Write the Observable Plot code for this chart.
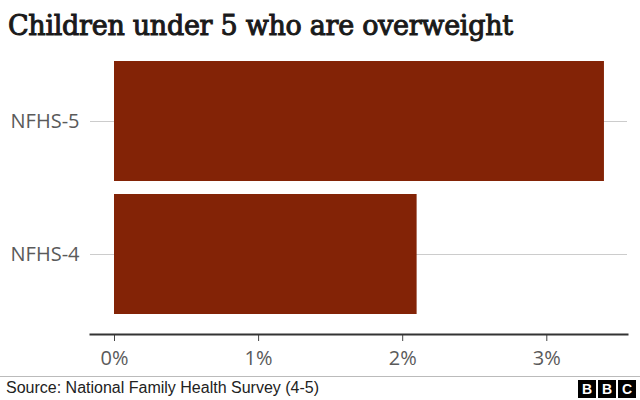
<!DOCTYPE html>
<html>
<head>
<meta charset="utf-8">
<script src="https://cdn.jsdelivr.net/npm/d3@7"></script>
<script src="https://cdn.jsdelivr.net/npm/@observablehq/plot@0.6"></script>
<style>
  html, body { margin: 0; padding: 0; background: #fff; width: 640px; height: 400px; overflow: hidden; }
  #title { font-family: "DejaVu Serif", serif; font-weight: normal; font-size: 27px; color: #1a1a1a; position: absolute; left: 8px; top: 10px; white-space: nowrap; letter-spacing: -0.3px; -webkit-text-stroke: 1px #1a1a1a; }
  #chart { position: absolute; left: 0; top: 50px; }
  #footer { position: absolute; left: 0; top: 376px; width: 640px; height: 24px; border-top: 1px solid #bbb; }
  #source { position: absolute; left: 6px; top: 2px; font-family: "Liberation Sans", Arial, sans-serif; font-size: 16px; color: #222; }
  #bbc { position: absolute; right: 4px; top: 3px; display: flex; gap: 2px; }
  #bbc span { display: block; width: 18px; height: 18px; background: #000; color: #fff; font-family: "Liberation Sans", Arial, sans-serif; font-weight: bold; font-size: 14px; line-height: 18px; text-align: center; }
</style>
</head>
<body>
<div id="title">Children under 5 who are overweight</div>
<div id="chart"></div>
<div id="footer"><div id="source">Source: National Family Health Survey (4-5)</div><div id="bbc"><span>B</span><span>B</span><span>C</span></div></div>
<script>
const surveys = ["NFHS-5", "NFHS-4"];
const overweight = [3.4, 2.1];
const xTicks = [0, 1, 2, 3];

const data = surveys.map((s, i) => ({survey: s, value: overweight[i]}));

const chart = Plot.plot({
  width: 640,
  height: 325,
  marginTop: 4.5,
  marginBottom: 41,
  marginLeft: 90,
  marginRight: 13,
  insetBottom: 13.5,
  style: {fontFamily: "'Open Sans', 'Noto Sans', sans-serif", fontSize: "19px", color: "#5a5a5a", background: "transparent"},
  x: {domain: [0, 3.56], insetLeft: 24, label: null, ticks: xTicks, tickFormat: d => d + "%"},
  y: {domain: surveys, paddingInner: 0.1, paddingOuter: 0.05, label: null},
  marks: [
    Plot.ruleY(data, {y: "survey", stroke: "#ccc", strokeWidth: 1.2}),
    Plot.barX(data, {y: "survey", x: "value", fill: "#832306"}),
    Plot.axisY({tickSize: 0, tickPadding: 11, label: null, fontSize: 20, fill: "#5a5a5a"}),
    Plot.axisX({tickSize: 7, tickPadding: 9, label: null, ticks: xTicks, tickFormat: d => d + "%", fontSize: 20, fill: "#5a5a5a", stroke: "#444"}),
    Plot.frame({anchor: "bottom", stroke: "#333", strokeWidth: 2})
  ]
});
document.getElementById("chart").appendChild(chart);
</script>
</body>
</html>
